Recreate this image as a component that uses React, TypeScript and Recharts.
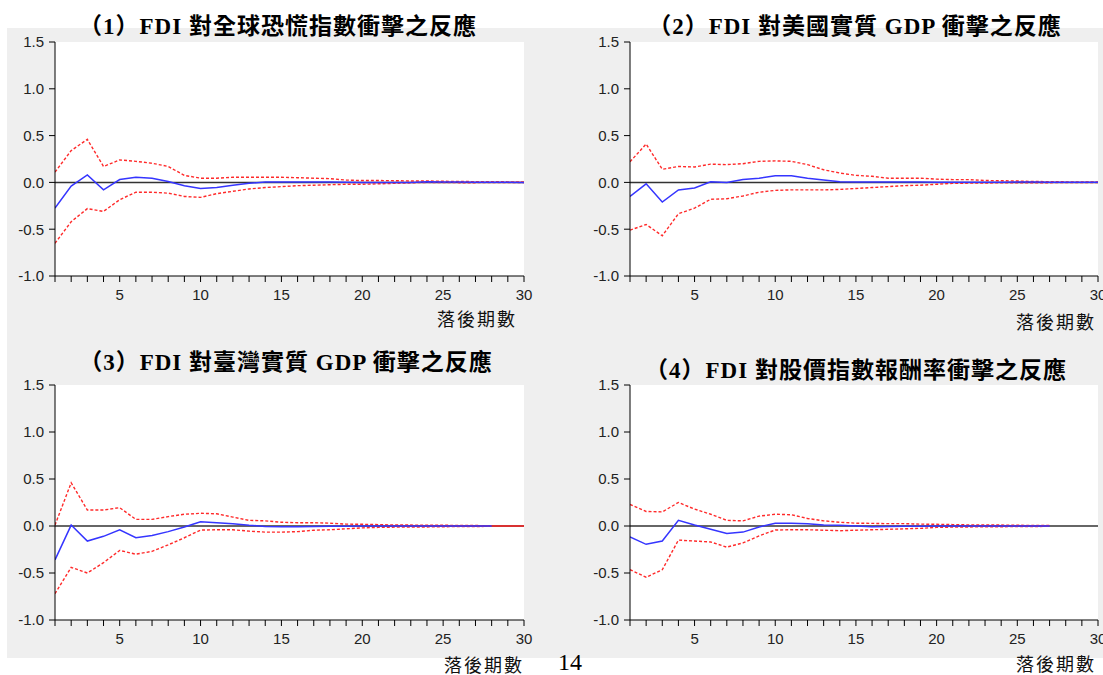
import React from 'react';
import { LineChart, Line, XAxis, YAxis, CartesianGrid, ReferenceLine } from 'recharts';

// periods after the shock (x axis) and y tick labels
const periods = [1, 2, 3, 4, 5, 6, 7, 8, 9, 10, 11, 12, 13, 14, 15, 16, 17, 18, 19, 20, 21, 22, 23, 24, 25, 26, 27, 28, 29, 30];
const yTicks = [-1, -0.5, 0, 0.5, 1, 1.5];

// (1) response to global fear index shock
const vixResp = [-0.275, -0.04, 0.08, -0.08, 0.03, 0.055, 0.045, 0.01, -0.035, -0.065, -0.055, -0.03, -0.01, 0.003, 0.005, 0.005, 0.004, 0.003, 0.001, 0, 0, -0.002, -0.002, 0.008, 0.004, 0.003, 0.002, 0.001, 0.001, 0];
const vixUpper = [0.11, 0.34, 0.46, 0.17, 0.24, 0.225, 0.205, 0.17, 0.075, 0.045, 0.045, 0.055, 0.055, 0.055, 0.055, 0.05, 0.045, 0.04, 0.025, 0.02, 0.02, 0.018, 0.015, 0.015, 0.012, 0.01, 0.008, 0.008, 0.006, 0.005];
const vixLower = [-0.65, -0.42, -0.28, -0.31, -0.185, -0.105, -0.105, -0.115, -0.15, -0.16, -0.12, -0.095, -0.07, -0.055, -0.045, -0.035, -0.03, -0.025, -0.02, -0.02, -0.015, -0.01, -0.005, 0, -0.002, -0.003, -0.003, -0.002, -0.002, -0.001];

// (2) response to US real GDP shock
const usResp = [-0.15, -0.015, -0.21, -0.08, -0.06, 0.007, 0, 0.03, 0.045, 0.07, 0.07, 0.045, 0.025, 0.007, 0.005, 0.004, 0.004, 0.003, 0.003, 0.002, 0.002, 0.002, 0.002, 0.002, 0.003, 0.003, 0.002, 0.001, 0.001, 0.001];
const usUpper = [0.22, 0.41, 0.14, 0.17, 0.165, 0.195, 0.19, 0.2, 0.225, 0.23, 0.225, 0.19, 0.135, 0.1, 0.075, 0.065, 0.045, 0.045, 0.045, 0.035, 0.03, 0.03, 0.02, 0.018, 0.015, 0.01, 0.008, 0.006, 0.005, 0.005];
const usLower = [-0.51, -0.45, -0.57, -0.335, -0.275, -0.18, -0.175, -0.145, -0.105, -0.085, -0.08, -0.08, -0.08, -0.075, -0.065, -0.055, -0.045, -0.035, -0.03, -0.02, -0.01, -0.008, -0.006, -0.005, -0.005, -0.004, -0.003, -0.002, -0.002, -0.001];

// (3) response to Taiwan real GDP shock
const twResp = [-0.36, 0.01, -0.16, -0.11, -0.04, -0.125, -0.1, -0.06, -0.01, 0.045, 0.035, 0.025, 0.008, -0.005, -0.008, -0.008, -0.005, -0.003, -0.002, -0.001, 0, 0, 0, 0, 0, 0, 0, 0];
const twUpper = [0.01, 0.46, 0.17, 0.17, 0.195, 0.07, 0.07, 0.1, 0.125, 0.135, 0.13, 0.095, 0.06, 0.055, 0.04, 0.035, 0.035, 0.03, 0.02, 0.018, 0.015, 0.01, 0.01, 0.008, 0.008, 0.006, 0.005, 0.003];
const twLower = [-0.72, -0.44, -0.5, -0.39, -0.26, -0.3, -0.27, -0.2, -0.125, -0.043, -0.04, -0.04, -0.055, -0.065, -0.065, -0.06, -0.045, -0.04, -0.03, -0.02, -0.015, -0.012, -0.01, -0.01, -0.008, -0.006, -0.005, -0.004];

// (4) response to stock index return shock
const stkResp = [-0.115, -0.195, -0.16, 0.06, 0.01, -0.035, -0.08, -0.065, -0.01, 0.03, 0.03, 0.025, 0.01, 0.007, 0, -0.007, -0.005, -0.003, -0.002, -0.001, 0, 0, 0, 0, 0, 0, 0];
const stkUpper = [0.23, 0.155, 0.15, 0.25, 0.18, 0.125, 0.06, 0.055, 0.105, 0.125, 0.12, 0.08, 0.055, 0.04, 0.03, 0.028, 0.025, 0.025, 0.02, 0.018, 0.015, 0.012, 0.01, 0.01, 0.008, 0.006, 0.005];
const stkLower = [-0.465, -0.545, -0.465, -0.15, -0.16, -0.17, -0.225, -0.18, -0.105, -0.043, -0.04, -0.04, -0.045, -0.05, -0.045, -0.04, -0.035, -0.03, -0.025, -0.015, -0.012, -0.01, -0.008, -0.008, -0.006, -0.005, -0.004];

const buildRows = (resp: number[], upper: number[], lower: number[]) =>
  periods.map((p, i) => ({
    period: p,
    resp: i < resp.length ? resp[i] : null,
    upper: i < upper.length ? upper[i] : null,
    lower: i < lower.length ? lower[i] : null,
  }));

const tickStyle = { fontFamily: '"Liberation Sans", Arial, sans-serif', fontSize: 15, fill: '#222' };
const serifCjk = '"Liberation Serif", "Noto Sans CJK TC", serif';

interface PanelProps {
  title: string;
  rows: ReturnType<typeof buildRows>;
  left: number;
  top: number;
  width: number;
  height: number;
  margin: { top: number; right: number; bottom: number; left: number };
  titleX: number;
  titleY: number;
  labelX: number;
  labelY: number;
  tailFrom?: number;
}

const IrfPanel: React.FC<PanelProps> = ({ title, rows, left, top, width, height, margin, titleX, titleY, labelX, labelY, tailFrom }) => (
  <>
    <div style={{ position: 'absolute', left, top }}>
      <LineChart width={width} height={height} data={rows} margin={margin}>
        <CartesianGrid fill="#fff" horizontal={false} vertical={false} />
        <XAxis
          dataKey="period"
          type="number"
          domain={[1, 30]}
          ticks={periods}
          interval={0}
          tickFormatter={(v: number) => (v % 5 === 0 ? String(v) : '')}
          tick={tickStyle}
          tickSize={6}
          tickMargin={7}
          height={30}
          stroke="#000"
          allowDataOverflow
        />
        <XAxis xAxisId="top" orientation="top" type="number" domain={[1, 30]} tick={false} tickLine={false} height={0} stroke="#000" />
        <YAxis
          type="number"
          domain={[-1, 1.5]}
          ticks={yTicks}
          interval={0}
          tickFormatter={(v: number) => v.toFixed(1)}
          tick={tickStyle}
          tickSize={6}
          tickMargin={5}
          width={50}
          stroke="#000"
          allowDataOverflow
        />
        <YAxis yAxisId="right" orientation="right" type="number" domain={[-1, 1.5]} tick={false} tickLine={false} width={0} stroke="#000" />
        <ReferenceLine y={0} stroke="#333" strokeWidth={1.5} />
        {tailFrom !== undefined && (
          <ReferenceLine segment={[{ x: tailFrom, y: 0 }, { x: 30, y: 0 }]} stroke="#ff2020" strokeWidth={1.4} />
        )}
        <Line dataKey="upper" stroke="#ff2a2a" strokeWidth={1.4} strokeDasharray="3 2" dot={false} activeDot={false} isAnimationActive={false} />
        <Line dataKey="lower" stroke="#ff2a2a" strokeWidth={1.4} strokeDasharray="3 2" dot={false} activeDot={false} isAnimationActive={false} />
        <Line dataKey="resp" stroke="#3535ff" strokeWidth={1.5} dot={false} activeDot={false} isAnimationActive={false} />
      </LineChart>
    </div>
    <div
      style={{
        position: 'absolute',
        left: titleX,
        top: titleY,
        transform: 'translate(-50%, -50%)',
        whiteSpace: 'nowrap',
        fontFamily: serifCjk,
        fontWeight: 'bold',
        fontSize: 23,
        lineHeight: 1,
        letterSpacing: 1,
        color: '#000',
      }}
    >
      {title}
    </div>
    <div
      style={{
        position: 'absolute',
        left: labelX,
        top: labelY,
        transform: 'translate(-50%, -50%)',
        whiteSpace: 'nowrap',
        fontFamily: '"Noto Sans CJK TC", sans-serif',
        fontSize: 18,
        lineHeight: 1,
        letterSpacing: 2,
        color: '#111',
      }}
    >
      落後期數
    </div>
  </>
);

export default function App() {
  return (
    <div style={{ position: 'absolute', left: 0, top: 0, width: 1103, height: 675, background: '#fff', overflow: 'hidden' }}>
      <div style={{ position: 'absolute', left: 7, top: 28, width: 1096, height: 630, background: '#efefef' }} />
      <IrfPanel
        title="（1）FDI 對全球恐慌指數衝擊之反應"
        rows={buildRows(vixResp, vixUpper, vixLower)}
        left={0}
        top={0}
        width={551}
        height={340}
        margin={{ top: 42, right: 27, bottom: 34, left: 5 }}
        titleX={278}
        titleY={26}
        labelX={477}
        labelY={318}
      />
      <IrfPanel
        title="（2）FDI 對美國實質 GDP 衝擊之反應"
        rows={buildRows(usResp, usUpper, usLower)}
        left={551}
        top={0}
        width={552}
        height={340}
        margin={{ top: 42, right: 5, bottom: 34, left: 29 }}
        titleX={855}
        titleY={26}
        labelX={1056}
        labelY={321}
      />
      <IrfPanel
        title="（3）FDI 對臺灣實質 GDP 衝擊之反應"
        rows={buildRows(twResp, twUpper, twLower)}
        left={0}
        top={340}
        width={551}
        height={335}
        margin={{ top: 45, right: 27, bottom: 25, left: 5 }}
        titleX={286}
        titleY={362}
        labelX={484}
        labelY={664}
        tailFrom={28}
      />
      <IrfPanel
        title="（4）FDI 對股價指數報酬率衝擊之反應"
        rows={buildRows(stkResp, stkUpper, stkLower)}
        left={551}
        top={340}
        width={552}
        height={335}
        margin={{ top: 45, right: 5, bottom: 25, left: 29 }}
        titleX={856}
        titleY={370}
        labelX={1056}
        labelY={663}
      />
      <div style={{ position: 'absolute', left: 558, top: 650, fontFamily: '"Liberation Serif", serif', fontSize: 24, lineHeight: 1, color: '#000' }}>
        14
      </div>
    </div>
  );
}
